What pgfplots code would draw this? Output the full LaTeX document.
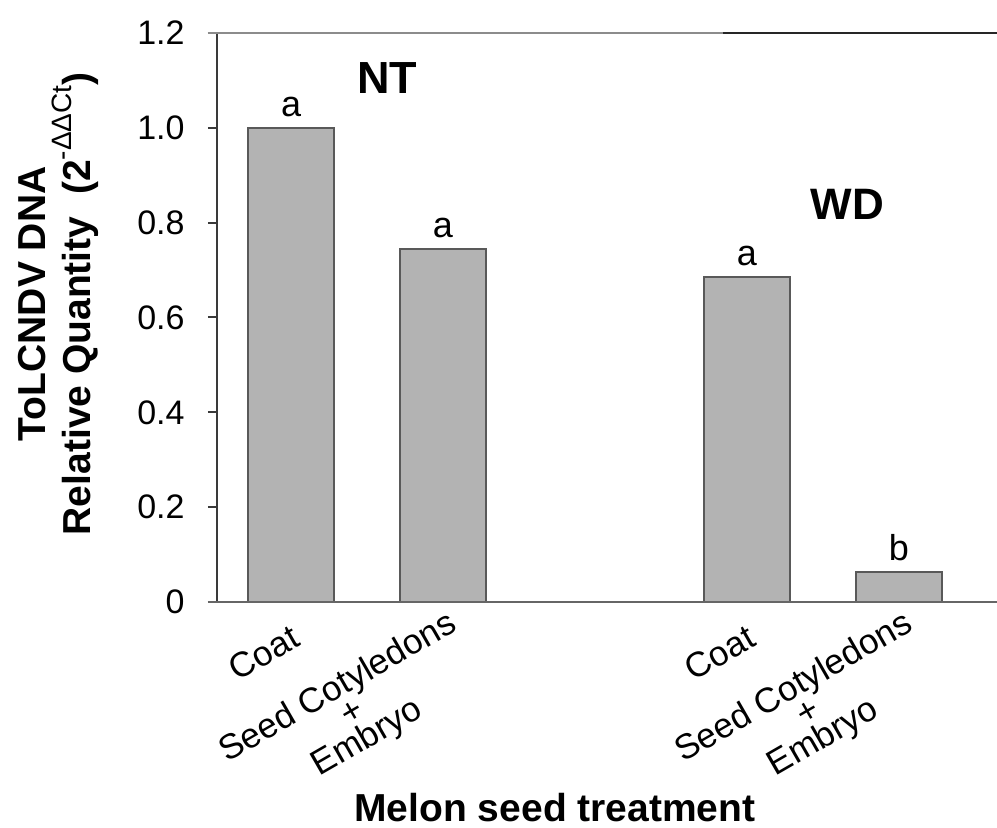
\documentclass[border=0pt]{standalone}
\usepackage{pgfplots}
\pgfplotsset{compat=1.18}
\usepackage{fontspec}
\setmainfont{Liberation Sans}
\definecolor{barfill}{HTML}{B3B3B3}
\definecolor{baredge}{HTML}{595959}
\definecolor{axisdark}{HTML}{3A3A3A}
\definecolor{axisgray}{HTML}{666666}
\definecolor{topgray}{HTML}{8C8C8C}
\begin{document}
\begin{tikzpicture}
\begin{axis}[
  name=ax,
  scale only axis,
  width=390pt, height=284.5pt,
  xmin=-0.487, xmax=4.645,
  ymin=0, ymax=1.2,
  ytick={0,0.2,0.4,0.6,0.8,1.0,1.2},
  yticklabels={0,0.2,0.4,0.6,0.8,1.0,1.2},
  xtick={0,1,3,4},
  xticklabels={\rule{0pt}{18pt}Coat\hspace{6pt},{Seed Cotyledons\\+\\Embryo},\rule{0pt}{18pt}Coat\hspace{6pt},{Seed Cotyledons\\+\\Embryo}},
  axis line style={draw=none},
  ytick pos=left,
  xtick pos=bottom,
  tick align=outside,
  major tick length=4.5pt,
  ytick style={color=axisdark, line width=1pt},
  xtick style={draw=none},
  clip=false,
  bar width=43pt,
  /pgf/number format/assume math mode=true,
  yticklabel style={font=\fontsize{17}{17}\selectfont, anchor=east, inner sep=0pt, xshift=-11.5pt},
  xticklabel style={font=\fontsize{17.5}{14.5}\selectfont, align=center, xshift=1.5pt, yshift=2pt, rotate=30, anchor=north east, inner sep=0pt},
  ylabel={ToLCNDV DNA\\Relative Quantity\ \ (2\raisebox{0.5em}{\fontsize{14}{14}\selectfont\mdseries -ΔΔCt})},
  ylabel style={at={(axis description cs:-0.2551,0.524)}, anchor=north, align=center, inner sep=0pt, font=\fontsize{19.5}{22.5}\selectfont\bfseries},
  xlabel={Melon seed treatment},
  xlabel style={at={(axis description cs:0.4333,-0.386)}, anchor=base, inner sep=0pt, font=\fontsize{19.5}{22.5}\selectfont\bfseries},
]
\addplot[ybar, fill=barfill, draw=baredge, line width=1pt,
  nodes near coords, point meta=explicit symbolic,
  nodes near coords style={font=\fontsize{18}{18}\selectfont, anchor=south, inner sep=0pt, yshift=5pt, color=black}]
  coordinates {(0,1.0) [a] (1,0.745) [a] (3,0.685) [a] (4,0.063) [b]};
\draw[color=axisdark, line width=1pt] (rel axis cs:0,0) -- (rel axis cs:0,1);
\draw[color=axisgray, line width=1.1pt] ([xshift=-4.5pt]rel axis cs:0,0) -- (rel axis cs:1,0);
\draw[color=topgray, line width=1.2pt] ([xshift=-4.5pt]rel axis cs:0,1) -- (rel axis cs:0.6487,1);
\draw[color=black!85, line width=1pt] (rel axis cs:0.6487,1) -- (rel axis cs:1,1);
\node[font=\fontsize{22.5}{22.5}\selectfont\bfseries, anchor=base] at (axis cs:0.632,1.073) {NT};
\node[font=\fontsize{22}{22}\selectfont\bfseries, anchor=base] at (axis cs:3.66,0.806) {WD};
\end{axis}
\pgfresetboundingbox
\path ([xshift=-108.5pt,yshift=-113pt]ax.south west) rectangle ([yshift=16.5pt]ax.north east);
\end{tikzpicture}
\end{document}
